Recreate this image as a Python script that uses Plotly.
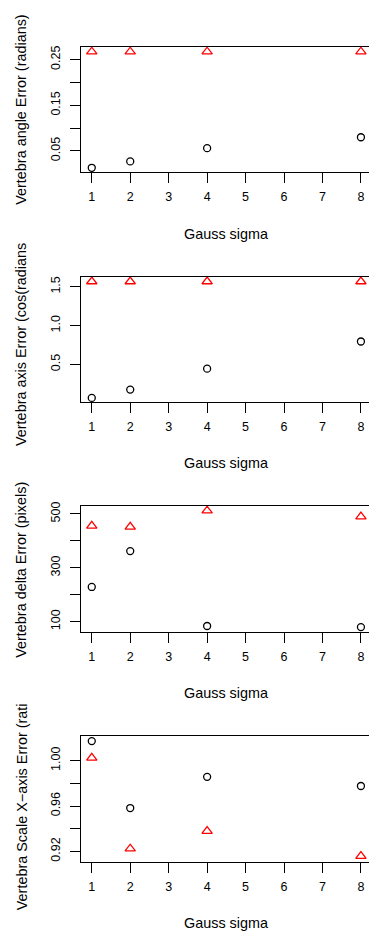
import plotly.graph_objects as go

W, H = 369, 935

sigma = [1, 2, 4, 8]
x_ticks = [1, 2, 3, 4, 5, 6, 7, 8]

angle_circle = [0.013, 0.027, 0.056, 0.080]
angle_tri = [0.2675, 0.2675, 0.2675, 0.2675]
axis_circle = [0.068, 0.175, 0.445, 0.795]
axis_tri = [1.568, 1.568, 1.568, 1.568]
delta_circle = [229, 362, 84, 80]
delta_tri = [456, 452, 512, 490]
scale_circle = [1.0172, 0.9582, 0.9857, 0.9776]
scale_tri = [1.0024, 0.9224, 0.9379, 0.9159]

y_titles = ["Vertebra angle Error (radians)", "Vertebra axis Error (cos(radians",
            "Vertebra delta Error (pixels)", "Vertebra Scale X\u2212axis Error (rati"]
x_title = "Gauss sigma"

panels = [
    dict(c=angle_circle, t=angle_tri, rng=[0.0029, 0.2777],
         tv=[0.05, 0.10, 0.15, 0.20, 0.25], tt=["0.05", "", "0.15", "", "0.25"],
         top=42.3, bot=168.3, ylab_c=105.8),
    dict(c=axis_circle, t=axis_tri, rng=[0.013, 1.628],
         tv=[0.5, 1.0, 1.5], tt=["0.5", "1.0", "1.5"],
         top=273.3, bot=399.3, ylab_c=341.3),
    dict(c=delta_circle, t=delta_tri, rng=[63.1, 528.4],
         tv=[100, 200, 300, 400, 500], tt=["100", "", "300", "", "500"],
         top=504.0, bot=630.0, ylab_c=568.3),
    dict(c=scale_circle, t=scale_tri, rng=[0.9106, 1.0216],
         tv=[0.92, 0.94, 0.96, 0.98, 1.00], tt=["0.92", "", "0.96", "", "1.00"],
         top=735.0, bot=861.7, ylab_c=806.0),
]

FONT = "Liberation Sans, Arial, sans-serif"
fig = go.Figure()
annotations = []
left = 81.0
for i, p in enumerate(panels):
    n = "" if i == 0 else str(i + 1)
    xa, ya = "x" + n, "y" + n
    fig.add_trace(go.Scatter(x=sigma, y=p["c"], mode="markers", xaxis=xa, yaxis=ya,
                             marker=dict(symbol="circle-open", size=7, color="black",
                                         line=dict(width=1.3, color="black")),
                             cliponaxis=False, showlegend=False))
    fig.add_trace(go.Scatter(x=sigma, y=p["t"], mode="markers", xaxis=xa, yaxis=ya,
                             marker=dict(symbol="triangle-up-open", size=9, color="#FF0000",
                                         line=dict(width=1.3, color="#FF0000")),
                             cliponaxis=False, showlegend=False))
    ydom = [1 - p["bot"] / H, 1 - p["top"] / H]
    fig.update_layout(**{
        "xaxis" + n: dict(domain=[left / W, 1], range=[0.72, 8.21], anchor=ya,
                          tickmode="array", tickvals=x_ticks, ticktext=[str(v) for v in x_ticks],
                          ticks="outside", ticklen=10, tickwidth=1, tickcolor="black",
                          showline=True, mirror=True, linecolor="black", linewidth=1,
                          showgrid=False, zeroline=False, ticklabelstandoff=3,
                          tickfont=dict(family=FONT, size=12.5, color="black")),
        "yaxis" + n: dict(domain=ydom, range=p["rng"], anchor=xa,
                          tickmode="array", tickvals=p["tv"], ticktext=p["tt"],
                          ticks="outside", ticklen=10, tickwidth=1, tickcolor="black",
                          showline=True, mirror=False, linecolor="black", linewidth=1,
                          showgrid=False, zeroline=False, tickangle=-90, ticklabelstandoff=5,
                          tickfont=dict(family=FONT, size=12.5, color="black")),
    })
    annotations.append(dict(text=y_titles[i], xref="paper", yref="paper",
                            x=21.5 / W, y=1 - p["ylab_c"] / H, xanchor="center", yanchor="middle",
                            textangle=-90, showarrow=False,
                            font=dict(family=FONT, size=14.4, color="black")))
    annotations.append(dict(text=x_title, xref="paper", yref="paper",
                            x=226.4 / W, y=1 - (p["bot"] + 61.5) / H, xanchor="center", yanchor="middle",
                            showarrow=False, font=dict(family=FONT, size=14.4, color="black")))

fig.update_layout(width=W, height=H, margin=dict(l=0, r=0, t=0, b=0),
                  paper_bgcolor="white", plot_bgcolor="white",
                  annotations=annotations, font=dict(family=FONT, color="black"))
fig.write_html("out.html", config={"displayModeBar": False, "staticPlot": True},
               post_script="document.body.style.margin='0';document.body.style.padding='0';"
                           "document.body.style.overflow='hidden';")
